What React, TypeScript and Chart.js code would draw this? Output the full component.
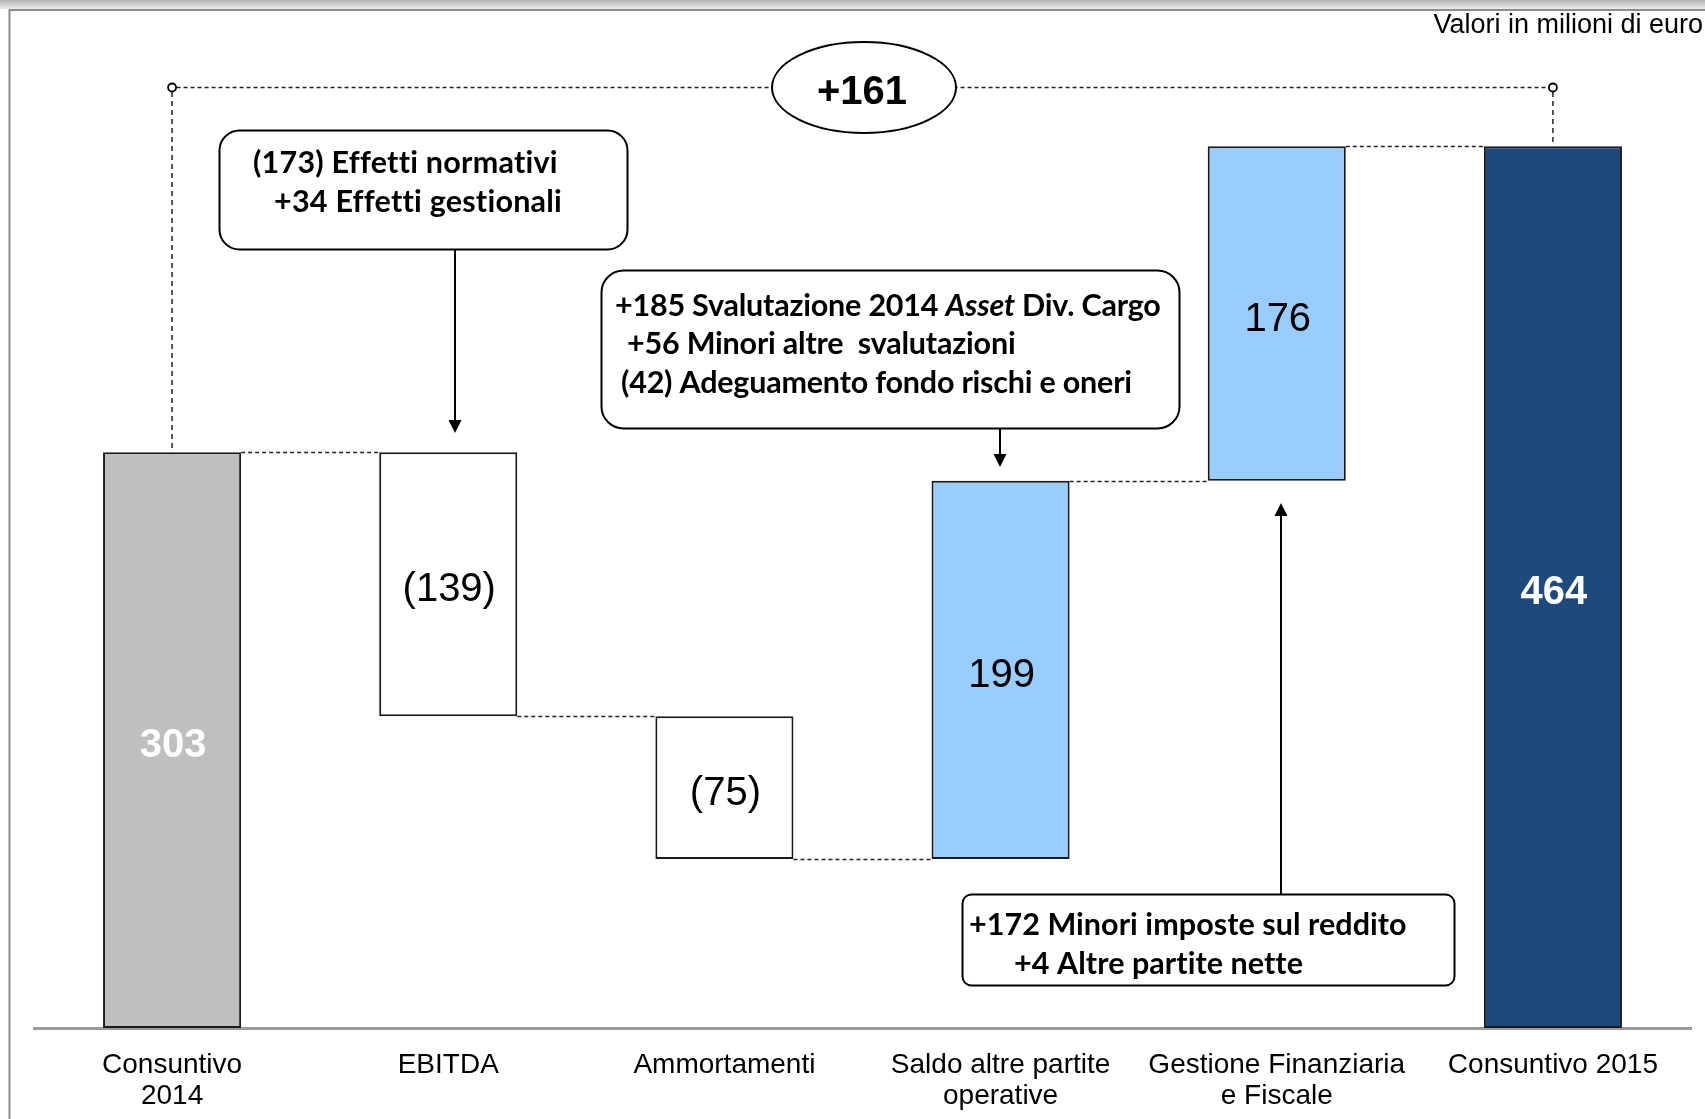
import React, { useEffect, useRef } from "react";
import { Chart, registerables } from "chart.js";

Chart.register(...registerables);

// ---------- data ----------
const categories: (string | string[])[] = [
  ["Consuntivo", "2014"],
  "EBITDA",
  "Ammortamenti",
  ["Saldo altre partite", "operative"],
  ["Gestione Finanziaria", "e Fiscale"],
  "Consuntivo 2015",
];
const startValue = 303;
const changes = [-139, -75, 199, 176];
const endValue = 464;
const valueLabels = ["303", "(139)", "(75)", "199", "176", "464"];
const barColors = ["#BFBFBF", "#FFFFFF", "#FFFFFF", "#99CCFF", "#99CCFF", "#1F487C"];
const valueLabelColors = ["#FFFFFF", "#000000", "#000000", "#000000", "#000000", "#FFFFFF"];
const valueLabelBold = [true, false, false, false, false, true];
const unitNote = "Valori in milioni di euro";

type Seg = { t: string; i?: boolean };
const noteEbitda: Seg[][] = [
  [{ t: "(173) Effetti normativi" }],
  [{ t: "+34 Effetti gestionali" }],
];
const noteSaldo: Seg[][] = [
  [{ t: "+185 Svalutazione 2014 " }, { t: "Asset", i: true }, { t: " Div. Cargo" }],
  [{ t: "+56 Minori altre  svalutazioni" }],
  [{ t: "(42) Adeguamento fondo rischi e oneri" }],
];
const noteGestione: Seg[][] = [
  [{ t: "+172 Minori imposte sul reddito" }],
  [{ t: "+4 Altre partite nette" }],
];

// running totals and floating bars
const totals: number[] = [startValue];
changes.forEach((c) => totals.push(totals[totals.length - 1] + c));
const floatingBars: [number, number][] = [
  [0, startValue],
  ...changes.map((c, i): [number, number] => [
    Math.min(totals[i], totals[i + 1]),
    Math.max(totals[i], totals[i + 1]),
  ]),
  [0, endValue],
];
const totalDelta = endValue - startValue;

// ---------- styles ----------
const SANS = "'Liberation Sans', Arial, sans-serif";
const NOTE_FONT = "Lato, 'Noto Sans', sans-serif";
const NOTE_SIZE = 30.5;

type Box = {
  lines: Seg[][];
  rect: [number, number, number, number];
  radius: number;
  xs: number[];
  baselines: number[];
  fitWidth: number;
  arrow: { x: number; from: number; to: number };
};

const boxes: Box[] = [
  {
    lines: noteEbitda,
    rect: [219, 130, 627, 249],
    radius: 20,
    xs: [253, 274],
    baselines: [173, 212],
    fitWidth: 305,
    arrow: { x: 455, from: 249, to: 433 },
  },
  {
    lines: noteSaldo,
    rect: [601, 270, 1179, 428],
    radius: 22,
    xs: [615, 627, 621],
    baselines: [315.5, 354, 392.5],
    fitWidth: 546,
    arrow: { x: 1000, from: 428, to: 467 },
  },
  {
    lines: noteGestione,
    rect: [962, 894, 1454, 985],
    radius: 9,
    xs: [969, 1014],
    baselines: [935, 974],
    fitWidth: 438,
    arrow: { x: 1281, from: 894, to: 503 },
  },
];

function segFont(size: number, italic?: boolean) {
  return `${italic ? "italic " : ""}bold ${size}px ${NOTE_FONT}`;
}

function setSpacing(ctx: any, px: number) {
  if ("letterSpacing" in ctx) ctx.letterSpacing = `${px}px`;
}

function measureLine(ctx: CanvasRenderingContext2D, segs: Seg[], size: number) {
  let w = 0;
  for (const s of segs) {
    ctx.font = segFont(size, s.i);
    w += ctx.measureText(s.t).width;
  }
  return w;
}

function roundRect(ctx: CanvasRenderingContext2D, x0: number, y0: number, x1: number, y1: number, r: number) {
  ctx.beginPath();
  ctx.moveTo(x0 + r, y0);
  ctx.lineTo(x1 - r, y0);
  ctx.arcTo(x1, y0, x1, y0 + r, r);
  ctx.lineTo(x1, y1 - r);
  ctx.arcTo(x1, y1, x1 - r, y1, r);
  ctx.lineTo(x0 + r, y1);
  ctx.arcTo(x0, y1, x0, y1 - r, r);
  ctx.lineTo(x0, y0 + r);
  ctx.arcTo(x0, y0, x0 + r, y0, r);
  ctx.closePath();
}

function drawArrow(ctx: CanvasRenderingContext2D, x: number, from: number, to: number) {
  const head = 13;
  const half = 6.5;
  const dir = to > from ? 1 : -1;
  ctx.save();
  ctx.strokeStyle = "#000";
  ctx.fillStyle = "#000";
  ctx.lineWidth = 2;
  ctx.beginPath();
  ctx.moveTo(x, from);
  ctx.lineTo(x, to - dir * head);
  ctx.stroke();
  ctx.beginPath();
  ctx.moveTo(x, to);
  ctx.lineTo(x - half, to - dir * head);
  ctx.lineTo(x + half, to - dir * head);
  ctx.closePath();
  ctx.fill();
  ctx.restore();
}

const waterfallPlugin = {
  id: "waterfallDecor",
  beforeDraw(chart: any) {
    const ctx: CanvasRenderingContext2D = chart.ctx;
    const W = chart.width;
    const H = chart.height;
    ctx.save();
    ctx.fillStyle = "#FFFFFF";
    ctx.fillRect(0, 0, W, H);
    const g = ctx.createLinearGradient(0, 0, 0, 10);
    g.addColorStop(0, "#B4B4B4");
    g.addColorStop(1, "#F2F2F2");
    ctx.fillStyle = g;
    ctx.fillRect(0, 0, W, 9);
    ctx.strokeStyle = "#8C8C8C";
    ctx.lineWidth = 2;
    ctx.beginPath();
    ctx.moveTo(9.5, H);
    ctx.lineTo(9.5, 10);
    ctx.lineTo(W, 10);
    ctx.stroke();
    ctx.restore();
  },
  afterDatasetsDraw(chart: any) {
    const ctx: CanvasRenderingContext2D = chart.ctx;
    const meta = chart.getDatasetMeta(0);
    const yScale = chart.scales.y;
    const bars = meta.data;
    ctx.save();

    // connectors between bars
    ctx.strokeStyle = "#222";
    ctx.lineWidth = 1.5;
    ctx.setLineDash([4, 3]);
    for (let i = 0; i < bars.length - 1; i++) {
      const a = bars[i];
      const b = bars[i + 1];
      const y = Math.round(yScale.getPixelForValue(totals[i])) + 0.5;
      ctx.beginPath();
      ctx.moveTo(a.x + a.width / 2, y);
      ctx.lineTo(b.x - b.width / 2, y);
      ctx.stroke();
    }

    // bracket for total change
    const bracketY = 87.5;
    const x0 = bars[0].x;
    const x1 = bars[bars.length - 1].x;
    ctx.beginPath();
    ctx.moveTo(x0 + 4.5, bracketY);
    ctx.lineTo(x1 - 4.5, bracketY);
    ctx.stroke();
    ctx.setLineDash([5, 4]);
    ctx.beginPath();
    ctx.moveTo(x0, bracketY + 4.5);
    ctx.lineTo(x0, bars[0].y);
    ctx.moveTo(x1, bracketY + 4.5);
    ctx.lineTo(x1, bars[bars.length - 1].y);
    ctx.stroke();
    ctx.setLineDash([]);
    ctx.fillStyle = "#FFF";
    ctx.strokeStyle = "#000";
    ctx.lineWidth = 1.8;
    for (const cx of [x0, x1]) {
      ctx.beginPath();
      ctx.ellipse(cx, bracketY, 4, 4, 0, 0, Math.PI * 2);
      ctx.fill();
      ctx.stroke();
    }

    // ellipse with total delta
    const ex = 864;
    ctx.beginPath();
    ctx.ellipse(ex, bracketY, 92, 45.5, 0, 0, Math.PI * 2);
    ctx.fillStyle = "#FFF";
    ctx.fill();
    ctx.lineWidth = 2;
    ctx.strokeStyle = "#000";
    ctx.stroke();
    ctx.fillStyle = "#000";
    ctx.font = `bold 40px ${SANS}`;
    ctx.textAlign = "center";
    ctx.textBaseline = "alphabetic";
    ctx.fillText((totalDelta >= 0 ? "+" : "") + totalDelta, ex - 2, bracketY + 16);

    // value labels
    ctx.textBaseline = "middle";
    for (let i = 0; i < bars.length; i++) {
      const b = bars[i];
      ctx.font = `${valueLabelBold[i] ? "bold " : ""}40px ${SANS}`;
      ctx.fillStyle = valueLabelColors[i];
      ctx.fillText(valueLabels[i], b.x + 1, (b.y + b.base) / 2 + 6);
    }

    // unit note
    ctx.font = `27px ${SANS}`;
    ctx.textAlign = "right";
    ctx.fillStyle = "#000";
    ctx.fillText(unitNote, 1703, 26);

    // annotation boxes
    for (const bx of boxes) {
      const [rx0, ry0, rx1, ry1] = bx.rect;
      roundRect(ctx, rx0 + 0.5, ry0 + 0.5, rx1 + 0.5, ry1 + 0.5, bx.radius);
      ctx.fillStyle = "#FFF";
      ctx.fill();
      ctx.strokeStyle = "#000";
      ctx.lineWidth = 2;
      ctx.stroke();
      // letter spacing chosen so the first line spans the measured width
      setSpacing(ctx, 0.01);
      const natural = measureLine(ctx, bx.lines[0], NOTE_SIZE);
      const nChars = bx.lines[0].reduce((n, s) => n + s.t.length, 0);
      const ls = (bx.fitWidth - natural) / nChars;
      setSpacing(ctx, Math.abs(ls) < 0.01 ? 0.01 : ls);
      ctx.textAlign = "left";
      ctx.textBaseline = "alphabetic";
      ctx.fillStyle = "#000";
      bx.lines.forEach((segs, li) => {
        let x = bx.xs[li];
        for (const s of segs) {
          ctx.font = segFont(NOTE_SIZE, s.i);
          ctx.fillText(s.t, x, bx.baselines[li]);
          x += ctx.measureText(s.t).width;
        }
      });
      setSpacing(ctx, 0);
      drawArrow(ctx, bx.arrow.x, bx.arrow.from, bx.arrow.to);
    }

    ctx.restore();
  },
};

export default function App() {
  const canvasRef = useRef<HTMLCanvasElement>(null);

  useEffect(() => {
    const canvas = canvasRef.current;
    if (!canvas) return;
    const chart = new Chart(canvas, {
      type: "bar",
      data: {
        labels: categories as any,
        datasets: [
          {
            data: floatingBars as any,
            backgroundColor: barColors,
            borderColor: "#1A1A1A",
            borderWidth: 2,
            borderSkipped: false,
            barPercentage: 0.5,
            categoryPercentage: 1.0,
          },
        ],
      },
      options: {
        animation: false,
        responsive: false,
        devicePixelRatio: 1,
        events: [],
        layout: { padding: { left: 34, right: 14, top: 0, bottom: 0 } },
        plugins: {
          legend: { display: false },
          tooltip: { enabled: false },
          title: { display: false },
        },
        scales: {
          x: {
            grid: { display: false, drawTicks: false },
            border: { display: true, color: "#9A9A9A", width: 3 },
            ticks: {
              color: "#000",
              font: { family: SANS, size: 28, lineHeight: 1.13 },
              padding: 21,
              autoSkip: false,
              maxRotation: 0,
              minRotation: 0,
            },
            afterFit: (scale: any) => {
              scale.height = 91;
            },
          },
          y: {
            display: false,
            min: 0,
            max: 541,
          },
        },
      },
      plugins: [waterfallPlugin],
    });
    return () => chart.destroy();
  }, []);

  return (
    <div style={{ position: "absolute", left: 0, top: 0, width: 1705, height: 1119, background: "#fff" }}>
      <canvas ref={canvasRef} width={1705} height={1119} style={{ width: 1705, height: 1119, display: "block" }} />
    </div>
  );
}
